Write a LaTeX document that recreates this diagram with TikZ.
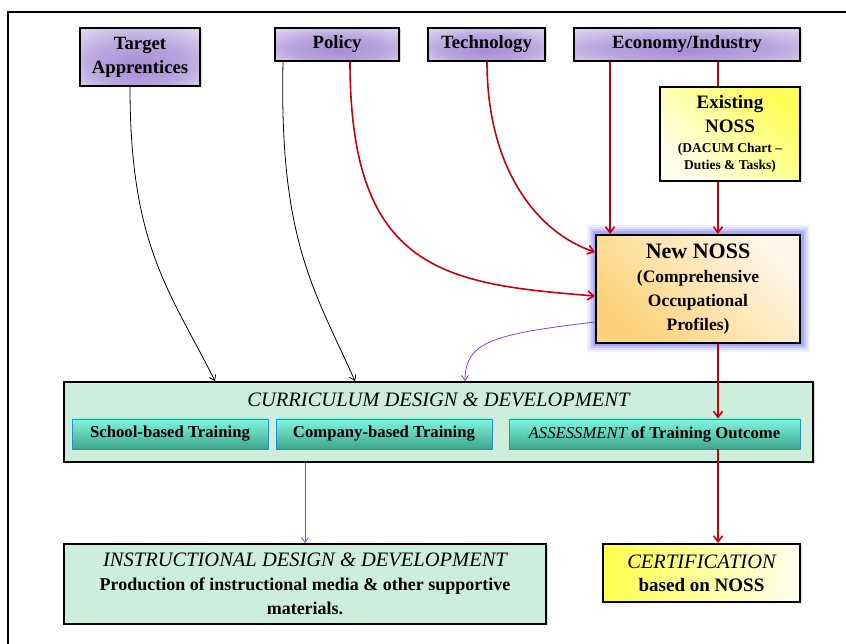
\documentclass[tikz,border=0pt]{standalone}
\usepackage{fontspec}
\setmainfont{Liberation Serif}
\usepackage{tikz}
\usepackage{xcolor}
\usetikzlibrary{positioning, arrows.meta, shadows}

\definecolor{lilac}{RGB}{168,140,212}
\definecolor{lilacpale}{RGB}{246,243,252}
\definecolor{mint}{RGB}{205,238,221}
\definecolor{tealdark}{RGB}{62,165,142}
\definecolor{teallight}{RGB}{128,246,226}
\definecolor{tealedge}{RGB}{40,140,210}
\definecolor{noss}{RGB}{252,210,120}
\definecolor{nosspale}{RGB}{255,246,232}
\definecolor{glow}{RGB}{105,105,255}
\definecolor{flowred}{RGB}{200,0,12}
\definecolor{flowpurple}{RGB}{130,70,200}

\pgfdeclareradialshading{lilacglow}{\pgfpoint{0bp}{-10bp}}{color(0bp)=(lilac); color(20bp)=(lilac!75!lilacpale); color(46bp)=(lilacpale); color(50bp)=(lilacpale)}

\tikzset{
  box/.style={draw, line width=1.8pt, align=center, inner sep=2pt},
  shadowed/.style={drop shadow={shadow xshift=1.5pt, shadow yshift=-1.5pt, opacity=0.3}},
  topbox/.style={box, shadowed, shading=lilacglow, font=\fontsize{18.7}{24}\bfseries\selectfont},
  existbox/.style={box, shadowed, top color=yellow!65, bottom color=yellow!8, shading angle=-45,
    font=\fontsize{19}{24}\bfseries\selectfont},
  newbox/.style={box, line width=2pt, top color=nosspale, bottom color=noss, shading angle=-45,
    preaction={draw=glow!10, line width=19pt}, preaction={draw=glow!22, line width=15pt},
    preaction={draw=glow!38, line width=11pt}, preaction={draw=glow!58, line width=7pt},
    font=\fontsize{17.5}{24}\bfseries\selectfont},
  mintbox/.style={box, shadowed, fill=mint, font=\fontsize{18}{24}\bfseries\selectfont},
  subbox/.style={draw=tealedge, line width=0.8pt, top color=teallight, bottom color=tealdark,
    inner sep=2pt, font=\fontsize{16.7}{20}\bfseries\selectfont},
  certbox/.style={box, shadowed, left color=yellow!70, right color=yellow!6,
    font=\fontsize{19}{23}\bfseries\selectfont},
  heading/.style={font=\fontsize{20.5}{24}\itshape\selectfont},
  redline/.style={draw=flowred, line width=1.6pt},
  redflow/.style={redline, -{Straight Barb[length=6pt, width=9pt, line width=1.6pt]}},
  blackflow/.style={draw, line width=0.8pt, -{Straight Barb[length=5pt, width=7pt]}},
  purpleflow/.style={draw=flowpurple, line width=0.8pt, -{Straight Barb[length=5pt, width=7pt]}}
}

\begin{document}
\begin{tikzpicture}[x=1pt, y=1pt]
  \useasboundingbox (0,0) rectangle (846,644);
  \draw[line width=1.3pt] (8,-5) -- (8,632) -- (851,632);

  \node[topbox, minimum width=120pt, minimum height=58pt] (tgt) at (140,587) {Target\\Apprentices};
  \node[topbox, minimum width=124pt, minimum height=33pt] (pol) at (337,599.5) {Policy};
  \node[topbox, minimum width=117pt, minimum height=33pt] (tech) at (486.5,599.5) {Technology};
  \node[topbox, minimum width=226pt, minimum height=33pt] (econ) at (687,599.5) {Economy/Industry};

  \node[existbox, minimum width=140pt, minimum height=94pt] (exist) at (730,510)
    {Existing\\NOSS\\[-4pt]{\fontsize{13.5}{16}\selectfont (DACUM Chart --}\\[-7pt]{\fontsize{13.5}{16}\selectfont Duties \& Tasks)}};
  \node[newbox, minimum width=204pt, minimum height=108pt] (new) at (698,355)
    {{\fontsize{22}{26}\selectfont New NOSS}\\(Comprehensive\\Occupational\\Profiles)};

  \node[mintbox, minimum width=749pt, minimum height=80pt] (curr) at (438.5,222) {};
  \node[heading] (currtitle) at (438.5,244) {CURRICULUM DESIGN \& DEVELOPMENT};
  \node[subbox, minimum width=196pt, minimum height=30pt] (school) at (170,210) {School-based Training};
  \node[subbox, minimum width=216pt, minimum height=30pt] (company) at (384,210) {Company-based Training};
  \node[subbox, minimum width=291pt, minimum height=30pt] (assess) at (654.5,210)
    {{\mdseries\itshape ASSESSMENT} of Training Outcome};

  \node[mintbox, minimum width=482pt, minimum height=80pt] (instr) at (305,60)
    {{\fontsize{20.5}{24}\mdseries\itshape\selectfont INSTRUCTIONAL DESIGN \& DEVELOPMENT}\\Production of instructional media \& other supportive\\materials.};
  \node[certbox, minimum width=197pt, minimum height=58pt] (cert) at (701.5,71)
    {{\fontsize{20.5}{24}\mdseries\itshape\selectfont CERTIFICATION}\\based on NOSS};

  \draw[blackflow] ([xshift=-10pt]tgt.south) .. controls +(0,-160) and +(-45,90) .. ([xshift=-223.5pt]curr.north);
  \draw[blackflow] ([xshift=-54pt]pol.south) .. controls +(-4,-180) and +(-40,90) .. ([xshift=-83.5pt]curr.north);
  \draw[redflow] ([xshift=13pt]pol.south) .. controls +(0,-210) and +(-150,12) .. ([yshift=-7pt]new.west);
  \draw[redflow] ([xshift=0.5pt]tech.south) .. controls +(0,-110) and +(-55,18) .. ([yshift=37pt]new.west);
  \draw[redflow] ([xshift=-77pt]econ.south) -- ([xshift=-77pt]econ.south |- new.north);
  \draw[redline] ([xshift=31pt]econ.south) -- ([xshift=31pt]econ.south |- exist.north);
  \draw[redflow] ([xshift=-12pt]exist.south) -- ([xshift=-12pt]exist.south |- new.north);
  \draw[purpleflow] ([yshift=-33pt]new.west) .. controls +(-100,-12) and +(0,40) .. ([xshift=26.5pt]curr.north);
  \draw[redflow] ([xshift=20pt]new.south) -- ([xshift=20pt]new.south |- assess.north);
  \draw[redflow] ([xshift=63.5pt]assess.south) -- ([xshift=63.5pt]assess.south |- cert.north);
  \draw[purpleflow] (instr.north |- curr.south) -- (instr.north);
\end{tikzpicture}
\end{document}
